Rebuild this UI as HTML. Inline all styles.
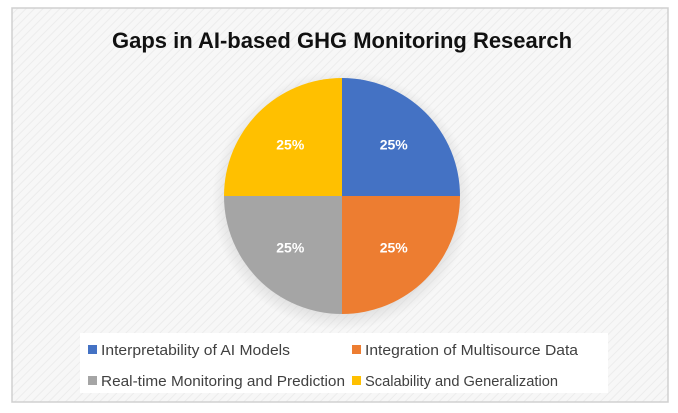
<!DOCTYPE html>
<html><head><meta charset="utf-8"><style>
html,body{margin:0;padding:0;background:#fff;}
svg{display:block;font-family:"Liberation Sans",sans-serif;}
</style></head><body>
<svg width="678" height="413" viewBox="0 0 678 413">
<defs>
<pattern id="hatch" width="6" height="6" patternUnits="userSpaceOnUse" patternTransform="rotate(45)">
<rect width="6" height="6" fill="#f7f7f7"/><line x1="0" y1="0" x2="0" y2="6" stroke="#ececec" stroke-width="2"/>
</pattern>
<radialGradient id="shadow" cx="0.5" cy="0.5" r="0.5">
<stop offset="0.85" stop-color="#ccc" stop-opacity="0.6"/><stop offset="1" stop-color="#ccc" stop-opacity="0"/>
</radialGradient>
</defs>
<rect x="12" y="8" width="656" height="394" fill="url(#hatch)" stroke="#d0d0d0" stroke-width="1.5"/>
<text x="342" y="48" text-anchor="middle" font-size="22" font-weight="bold" fill="#111">Gaps in AI-based GHG Monitoring Research</text>
<circle cx="342" cy="200" r="130" fill="url(#shadow)"/>
<g id="slices"></g>
<rect x="80" y="333" width="528" height="60" fill="#fff"/>
<g id="legend"></g>
</svg>
<script>
const categories=["Interpretability of AI Models","Integration of Multisource Data","Real-time Monitoring and Prediction","Scalability and Generalization"];
const values=[25,25,25,25];
const colors=["#4472c4","#ed7d31","#a5a5a5","#ffc000"];
const NS="http://www.w3.org/2000/svg";
const cx=342,cy=196,r=118;
const total=values.reduce((a,b)=>a+b,0);
const g=document.getElementById('slices');
let a0=0;
values.forEach((v,i)=>{
  const a1=a0+v/total*2*Math.PI;
  const x0=cx+r*Math.sin(a0),y0=cy-r*Math.cos(a0),x1=cx+r*Math.sin(a1),y1=cy-r*Math.cos(a1);
  const p=document.createElementNS(NS,'path');
  p.setAttribute('d',`M${cx},${cy}L${x0},${y0}A${r},${r} 0 ${a1-a0>Math.PI?1:0} 1 ${x1},${y1}Z`);
  p.setAttribute('fill',colors[i]);
  
  
  g.appendChild(p);
  const am=(a0+a1)/2;
  const t=document.createElementNS(NS,'text');
  t.setAttribute('x',cx+r*0.62*Math.sin(am));
  t.setAttribute('y',cy-r*0.62*Math.cos(am)+5);
  t.setAttribute('text-anchor','middle');
  t.setAttribute('font-size','14');
  t.setAttribute('font-weight','bold');
  t.setAttribute('fill','#fff');
  t.textContent=Math.round(v/total*100)+'%';
  
  
  g.appendChild(t);
  a0=a1;
});
const lg=document.getElementById('legend');
const pos=[[88,355],[352,355],[88,386],[352,386]];
const widths=[189,213,244,193];
categories.forEach((c,i)=>{
  const e=document.createElementNS(NS,'g');
  
  
  const s=document.createElementNS(NS,'rect');
  s.setAttribute('x',pos[i][0]);s.setAttribute('y',pos[i][1]-10);
  s.setAttribute('width',9);s.setAttribute('height',9);s.setAttribute('fill',colors[i]);
  const t=document.createElementNS(NS,'text');
  t.setAttribute('x',pos[i][0]+13);t.setAttribute('y',pos[i][1]);
  t.setAttribute('font-size','15');t.setAttribute('fill','#404040');
  t.setAttribute('textLength',widths[i]);t.setAttribute('lengthAdjust','spacingAndGlyphs');
  t.textContent=c;
  e.appendChild(s);e.appendChild(t);lg.appendChild(e);
});
</script>
</body></html>
